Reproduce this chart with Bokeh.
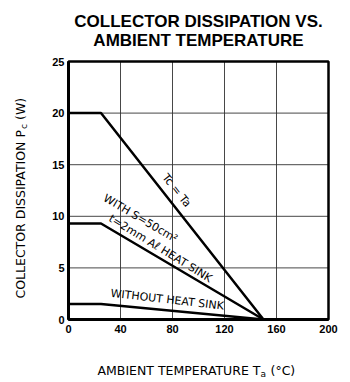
import math
from bokeh.plotting import figure
from bokeh.models import Label, FixedTicker, LinearAxis, Range1d
from bokeh.core.properties import value
from bokeh.embed import file_html
from bokeh.resources import INLINE

# ---- data ----
temps = [0, 25, 150]
pc_infinite = [20, 20, 0]      # Tc = Ta
pc_heatsink = [9.3, 9.3, 0]    # with S=50cm2, t=2mm Al heat sink
pc_none = [1.5, 1.5, 0]        # without heat sink
x_ticks = [0, 40, 80, 120, 160, 200]
y_ticks = [0, 5, 10, 15, 20, 25]

TICK_FONT = "Liberation Sans"
TEXT_FONT = "DejaVu Sans"

W, H = 350, 382
# plotted-area box (pixels) inside the canvas
BL, BR, BT, BB = 68, 328, 61, 319
xs = (x_ticks[-1] - x_ticks[0]) / (BR - BL)
ys = (y_ticks[-1] - y_ticks[0]) / (BB - BT)
x_range = Range1d(x_ticks[0] - BL * xs, x_ticks[-1] + (W - BR) * xs)
y_range = Range1d(y_ticks[0] - (H - BB) * ys, y_ticks[-1] + BT * ys)

p = figure(width=W, height=H, output_backend="svg", toolbar_location=None,
           x_range=x_range, y_range=y_range, x_axis_type=None, y_axis_type=None,
           min_border=0, min_border_left=0, min_border_right=0,
           min_border_top=0, min_border_bottom=0)
p.background_fill_color = "white"
p.border_fill_color = "white"
p.outline_line_color = None

# grid lines
p.segment(x0=x_ticks, y0=[y_ticks[0]] * len(x_ticks), x1=x_ticks, y1=[y_ticks[-1]] * len(x_ticks),
          line_color="#333333", line_width=1, line_alpha=0.9)
p.segment(x0=[x_ticks[0]] * len(y_ticks), y0=y_ticks, x1=[x_ticks[-1]] * len(y_ticks), y1=y_ticks,
          line_color="#333333", line_width=1, line_alpha=0.9)
# box
p.quad(left=[x_ticks[0]], right=[x_ticks[-1]], bottom=[y_ticks[0]], top=[y_ticks[-1]],
       fill_color=None, line_color="black", line_width=2.5)

xaxis = LinearAxis(fixed_location=0, bounds=(x_ticks[0], x_ticks[-1]),
                   ticker=FixedTicker(ticks=x_ticks))
yaxis = LinearAxis(fixed_location=0, bounds=(y_ticks[0], y_ticks[-1]),
                   ticker=FixedTicker(ticks=y_ticks))
for ax in (xaxis, yaxis):
    ax.major_tick_line_color = None
    ax.minor_tick_line_color = None
    ax.major_tick_out = 0
    ax.major_tick_in = 0
    ax.axis_line_color = "black"
    ax.axis_line_width = 3
    ax.major_label_text_font = TICK_FONT
    ax.major_label_text_font_style = "bold"
    ax.major_label_text_font_size = "11px"
    ax.major_label_text_color = "black"
xaxis.major_label_standoff = 5
yaxis.major_label_standoff = 4
p.add_layout(xaxis, "below")
p.add_layout(yaxis, "left")

for ys_ in (pc_infinite, pc_heatsink, pc_none):
    p.line(temps, ys_, line_color="black", line_width=2.5)

def curve_label(txt, x, y, ang, size="11px"):
    p.text(x=[x], y=[y], text=[txt], angle=ang, text_align="center",
           text_baseline="middle", text_font=value(TEXT_FONT), text_font_size=size,
           text_color="black")

curve_label("Tc = Ta", 83.1, 12.5, -0.90)
curve_label("WITH S=50cm²", 55.4, 9.79, -0.53)
curve_label("t=2mm Aℓ HEAT SINK", 70.8, 6.88, -0.55)
curve_label("WITHOUT HEAT SINK", 75.9, 1.92, -0.115)

# ---- texts placed in canvas pixels (x from left, y from top) ----
def lab(txt, px, py, size, style="normal", align="left", baseline="alphabetic",
        angle=0.0, font=TEXT_FONT):
    p.add_layout(Label(x=px, y=py, x_units="canvas", y_units="canvas",
                       text=txt, text_font=font, text_font_size=size,
                       text_font_style=style, text_align=align,
                       text_baseline=baseline, angle=angle, text_color="black"))

lab("COLLECTOR DISSIPATION VS.", 198, 21, "17px", "bold", "center", font="Liberation Sans")
lab("AMBIENT TEMPERATURE", 198, 39.5, "17px", "bold", "center", font="Liberation Sans")

# x axis label:  AMBIENT TEMPERATURE T_a (°C)
lab("AMBIENT TEMPERATURE T", 97, 370, "12.5px")
lab("a", 260, 373, "9px")
lab("(°C)", 270, 370, "12.5px")

# y axis label:  COLLECTOR DISSIPATION P_c (W)  (reads bottom to top)
lab("COLLECTOR DISSIPATION P", 20, 298, "12.5px", angle=math.pi / 2)
lab("c", 23, 128.5, "9px", angle=math.pi / 2)
lab("(W)", 20, 119.5, "12.5px", angle=math.pi / 2)

open("out.html", "w").write(file_html(p, INLINE))
